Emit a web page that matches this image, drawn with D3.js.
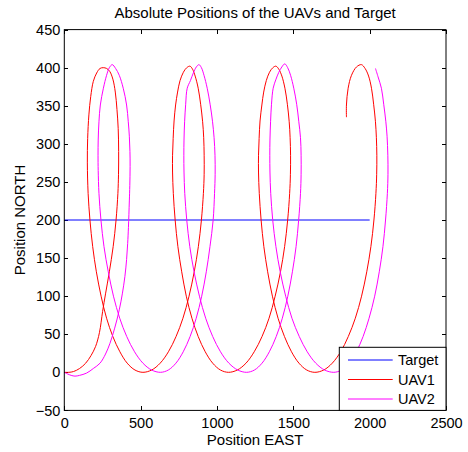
<!DOCTYPE html>
<html lang="en">
<head>
<meta charset="utf-8">
<title>Absolute Positions of the UAVs and Target</title>
<script src="https://d3js.org/d3.v7.min.js"></script>
<style type="text/css">
body {
	margin: 0;
	background-color: #ffffff;
}
text {
	font-family: "Liberation Sans", Arial, Helvetica, sans-serif;
	fill: #000;
}
.axis text {
	font-size: 14.5px;
}
.axis line {
	stroke: #000;
	shape-rendering: crispEdges;
}
.axis path {
	display: none;
}
</style>
</head>
<body>
<script type="text/javascript">

// tick labels
var xTicks = [0, 500, 1000, 1500, 2000, 2500];
var yTicks = [-50, 0, 50, 100, 150, 200, 250, 300, 350, 400, 450];

// target track
var targetEast  = [0, 2000];
var targetNorth = [200, 200];

// UAV1 track
var uav1East = [0, 30, 60, 100, 140, 175, 205, 230, 251, 270, 295, 320, 339, 351,
  355, 356, 353, 345, 334, 318, 298, 277, 255,
  234, 212, 190, 173, 161, 153, 151,
  156, 168, 186, 210, 241, 277, 318, 364, 412, 463, 515,
  572, 628, 682, 732, 777, 817, 851, 878, 898, 911,
  916, 916, 913, 906, 893, 877, 857, 840, 823,
  802, 780, 758, 742, 729, 719, 713, 709, 709,
  714, 726, 744, 769, 799, 836, 877, 923, 972, 1023, 1075,
  1133, 1190, 1244, 1295, 1341, 1381, 1416, 1443, 1463, 1476,
  1481, 1482, 1479, 1473, 1461, 1445, 1425, 1405, 1386,
  1366, 1344, 1323, 1306, 1294, 1282, 1276, 1272, 1272,
  1277, 1289, 1307, 1332, 1363, 1400, 1442, 1488, 1537, 1588, 1641,
  1699, 1755, 1810, 1860, 1906, 1947, 1981, 2008, 2028, 2041,
  2046, 2047, 2044, 2038, 2026, 2012, 1993, 1970, 1946,
  1914, 1881, 1859, 1848, 1848];
var uav1North = [0, 0, 1, 5, 12, 22, 34, 52, 80, 103, 132, 165, 200, 235,
  260, 290, 320, 345, 368, 385, 395, 399, 400,
  399, 393, 382, 362, 338, 307, 275,
  235, 200, 165, 132, 100, 71, 47, 27, 12, 3, 0,
  3, 12, 27, 47, 71, 100, 132, 165, 200, 235,
  260, 285, 308, 329, 352, 373, 389, 398, 402,
  400, 394, 383, 368, 351, 330, 307, 285, 263,
  235, 200, 165, 132, 100, 71, 47, 27, 12, 3, 0,
  3, 12, 27, 47, 71, 100, 132, 165, 200, 235,
  260, 285, 308, 329, 352, 373, 389, 398, 402,
  400, 394, 383, 368, 351, 330, 307, 285, 263,
  235, 200, 165, 132, 100, 71, 47, 27, 12, 3, 0,
  3, 12, 27, 47, 71, 100, 132, 165, 200, 235,
  260, 285, 308, 329, 352, 373, 389, 399, 404,
  401, 390, 373, 351, 335];

// UAV2 track
var uav2East = [0, 20, 45, 70, 100, 146, 190, 234, 270, 299, 330, 360, 380, 397, 408, 415, 420, 426,
  429, 431, 430, 426, 419, 408, 386, 360, 336, 314,
  295, 277, 256, 236, 227, 222, 221, 222,
  227, 240, 260, 288, 322, 363, 409, 460, 515, 572, 630,
  681, 731, 779, 824, 864, 900, 930, 954, 975, 984,
  988, 987, 981, 971, 955, 936, 915, 898, 882,
  865, 845, 826, 805, 795, 788, 784, 783, 784,
  789, 802, 822, 850, 885, 926, 972, 1023, 1078, 1136, 1194,
  1245, 1295, 1343, 1388, 1428, 1464, 1494, 1518, 1535, 1547,
  1551, 1551, 1547, 1536, 1522, 1503, 1482, 1463, 1444,
  1425, 1405, 1385, 1368, 1357, 1351, 1347, 1346, 1347,
  1352, 1365, 1386, 1414, 1450, 1491, 1539, 1591, 1647, 1705, 1765,
  1816, 1866, 1913, 1957, 1996, 2033, 2063, 2087, 2104, 2116,
  2120, 2119, 2114, 2106, 2092, 2077, 2055, 2038];
var uav2North = [0, -2, -4, -5, -4, -1, 5, 12, 24, 38, 58, 82, 103, 126, 148, 169, 190, 225,
  245, 270, 290, 310, 329, 351, 373, 390, 399, 404,
  400, 390, 373, 351, 329, 305, 285, 265,
  235, 200, 165, 132, 100, 71, 47, 27, 12, 3, 0,
  3, 12, 27, 47, 71, 100, 132, 165, 200, 235,
  260, 285, 308, 329, 352, 373, 390, 400, 404,
  401, 393, 383, 373, 352, 329, 305, 285, 263,
  235, 200, 165, 132, 100, 71, 47, 27, 12, 3, 0,
  3, 12, 27, 47, 71, 100, 132, 165, 200, 235,
  260, 285, 308, 329, 352, 373, 390, 400, 405,
  401, 394, 384, 373, 352, 329, 305, 285, 263,
  235, 200, 165, 132, 100, 71, 47, 27, 12, 3, 0,
  3, 12, 27, 47, 71, 100, 132, 165, 200, 235,
  260, 285, 310, 329, 352, 373, 388, 399];

var seriesNames  = ["Target", "UAV1", "UAV2"];
var seriesColors = ["#0000ff", "#ff0000", "#ff00ff"];

//Width and height of figure
var width = 468;
var height = 452;
var plotLeft = 64.3, plotRight = 446, plotTop = 29.6, plotBottom = 410.4;

var svg = d3.select("body")
  .append("svg")
  .attr("width", width)
  .attr("height", height);

var x = d3.scaleLinear().domain([0, 2500]).range([plotLeft, plotRight]);
var y = d3.scaleLinear().domain([-50, 450]).range([plotBottom, plotTop]);
var fmt = d3.format("d");

// clip the tracks to the axes box
svg.append("defs").append("clipPath")
  .attr("id", "plotclip")
  .append("rect")
  .attr("x", plotLeft)
  .attr("y", plotTop)
  .attr("width", plotRight - plotLeft)
  .attr("height", plotBottom - plotTop);

// axes, ticks pointing inwards like matlab
svg.append("g")
  .attr("class", "axis")
  .attr("transform", "translate(0," + plotBottom + ")")
  .call(d3.axisBottom(x).tickValues(xTicks).tickSize(-4).tickPadding(7.5).tickFormat(fmt));
svg.append("g")
  .attr("class", "axis")
  .attr("transform", "translate(0," + plotTop + ")")
  .call(d3.axisTop(x).tickValues(xTicks).tickSize(-4).tickFormat(""));
svg.append("g")
  .attr("class", "axis")
  .attr("transform", "translate(" + plotLeft + ",0)")
  .call(d3.axisLeft(y).tickValues(yTicks).tickSize(-4).tickPadding(4).tickFormat(fmt));
svg.append("g")
  .attr("class", "axis")
  .attr("transform", "translate(" + plotRight + ",0)")
  .call(d3.axisRight(y).tickValues(yTicks).tickSize(-4).tickFormat(""));

// tracks
function track(east, north) {
  return east.map(function(e, i) { return [e, north[i]]; });
}
var line = d3.line()
  .x(function(d) { return x(d[0]); })
  .y(function(d) { return y(d[1]); })
  .curve(d3.curveCatmullRom.alpha(0.5));

var tracks = [track(targetEast, targetNorth), track(uav1East, uav1North), track(uav2East, uav2North)];

svg.append("g")
  .attr("clip-path", "url(#plotclip)")
  .selectAll("path")
  .data(tracks)
  .enter()
  .append("path")
  .attr("d", line)
  .style("fill", "none")
  .style("stroke", function(d, i) { return seriesColors[i]; })
  .style("stroke-width", 1);

// box
svg.append("rect")
  .attr("x", plotLeft)
  .attr("y", plotTop)
  .attr("width", plotRight - plotLeft)
  .attr("height", plotBottom - plotTop)
  .style("fill", "none")
  .style("stroke", "#000")
  .style("stroke-width", 1);

// legend
var legend = svg.append("g").attr("transform", "translate(339.3,347.3)");
legend.append("rect")
  .attr("width", plotRight - 339.3)
  .attr("height", plotBottom - 347.3)
  .style("fill", "#fff")
  .style("stroke", "#000")
  .style("stroke-width", 1);
var rows = legend.selectAll("g.row")
  .data(seriesNames)
  .enter()
  .append("g")
  .attr("class", "row")
  .attr("transform", function(d, i) { return "translate(0," + (12.7 + i * 19.5) + ")"; });
rows.append("line")
  .attr("x1", 8.7)
  .attr("x2", 53.4)
  .style("stroke", function(d) { return seriesColors[seriesNames.indexOf(d)]; })
  .style("stroke-width", 1);
rows.append("text")
  .attr("x", 58.7)
  .attr("dy", "0.35em")
  .style("font-size", "14.5px")
  .text(function(d) { return d; });

//titles
svg.append("text")
  .attr("x", (plotLeft + plotRight) / 2)
  .attr("y", 17.5)
  .attr("text-anchor", "middle")
  .style("font-size", "15px")
  .text("Absolute Positions of the UAVs and Target");
svg.append("text")
  .attr("x", (plotLeft + plotRight) / 2)
  .attr("y", 444.5)
  .attr("text-anchor", "middle")
  .style("font-size", "15px")
  .text("Position EAST");
svg.append("text")
  .attr("transform", "translate(24.5," + ((plotTop + plotBottom) / 2) + ") rotate(-90)")
  .attr("text-anchor", "middle")
  .style("font-size", "15px")
  .text("Position NORTH");

</script>
</body>
</html>
